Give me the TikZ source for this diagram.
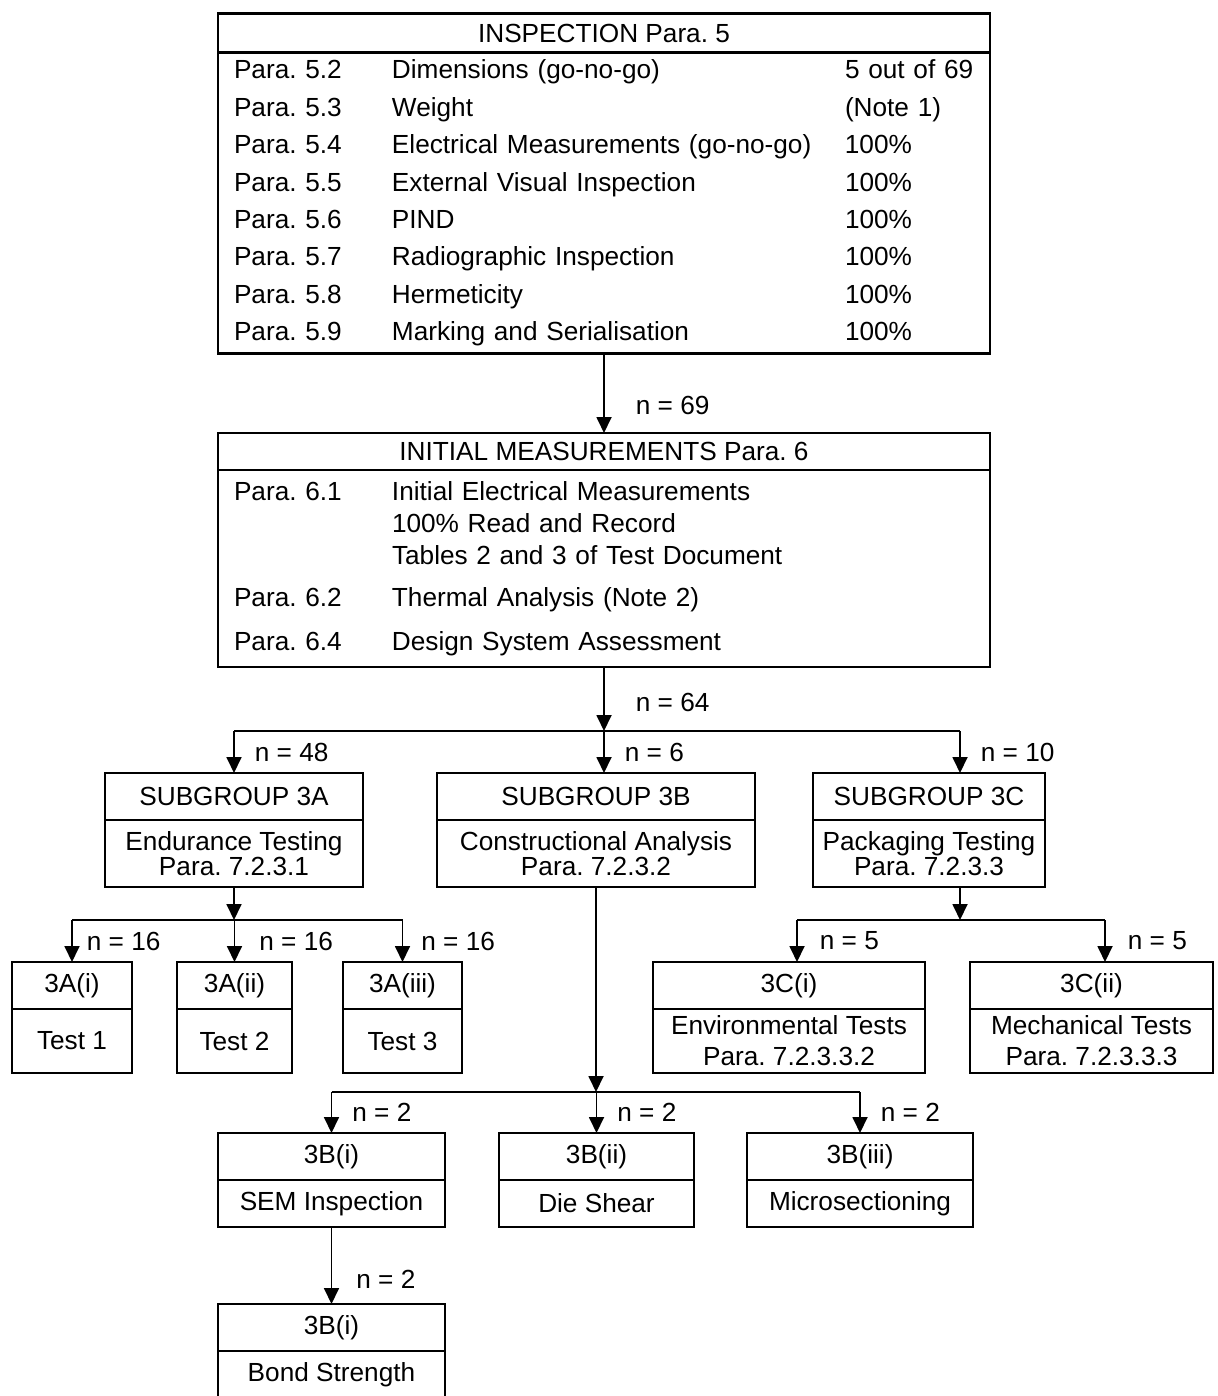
\documentclass[tikz,border=0pt]{standalone}
\usepackage{fontspec}
\setmainfont{Liberation Sans}
\usetikzlibrary{positioning,arrows.meta}
\frenchspacing

\newcommand{\pcol}[1]{\makebox[79pt][l]{#1}}
\newcommand{\dcol}[1]{\makebox[226.5pt][l]{#1}}
\newcommand{\qcol}[1]{\makebox[0pt][l]{#1}}

\begin{document}
\begin{tikzpicture}[x=0.5pt,y=-0.5pt,
    font=\fontsize{13.1}{15}\selectfont,
    box/.style={draw,line width=1.2pt,outer sep=0pt,inner sep=0pt,align=center},
    hdr/.style={box,minimum height=23.5pt},
    bdy/.style={box,below=0pt of #1},
    flow/.style={line width=0.9pt,-{Triangle[width=7.5pt,length=8pt]}},
    tie/.style={line width=0.9pt},
    lbl/.style={right,inner sep=0pt,xshift=#1},
    lbl/.default=10pt]
  \useasboundingbox (0,0) rectangle (1218,1396);

  % inspection
  \node[hdr,minimum width=386pt,minimum height=19.5pt] (insp) at (604,33) {INSPECTION Para. 5};
  \node[bdy=insp,minimum width=386pt,minimum height=150.5pt,inner xsep=8pt,text width=370pt,
        align=left,font=\fontsize{13.1}{18.7}\selectfont] (insp-b) {%
    \pcol{Para. 5.2}\dcol{Dimensions (go-no-go)}\qcol{5 out of 69}\\
    \pcol{Para. 5.3}\dcol{Weight}\qcol{(Note 1)}\\
    \pcol{Para. 5.4}\dcol{Electrical Measurements (go-no-go)}\qcol{100\%}\\
    \pcol{Para. 5.5}\dcol{External Visual Inspection}\qcol{100\%}\\
    \pcol{Para. 5.6}\dcol{PIND}\qcol{100\%}\\
    \pcol{Para. 5.7}\dcol{Radiographic Inspection}\qcol{100\%}\\
    \pcol{Para. 5.8}\dcol{Hermeticity}\qcol{100\%}\\
    \pcol{Para. 5.9}\dcol{Marking and Serialisation}\qcol{100\%}};

  % initial measurements
  \node[hdr,minimum width=386pt,minimum height=18.5pt] (init) at (604,451.5) {INITIAL MEASUREMENTS Para. 6};
  \node[bdy=init,minimum width=386pt,minimum height=98.5pt,inner xsep=8pt,text width=370pt,
        align=left,font=\fontsize{13.1}{16}\selectfont] (init-b) {%
    \pcol{Para. 6.1}Initial Electrical Measurements\\
    \pcol{}100\% Read and Record\\
    \pcol{}Tables 2 and 3 of Test Document\\[5pt]
    \pcol{Para. 6.2}Thermal Analysis (Note 2)\\[6pt]
    \pcol{Para. 6.4}Design System Assessment};

  % subgroups
  \node[hdr,minimum width=129pt] (sub3a) at (234,796.5) {SUBGROUP 3A};
  \node[bdy=sub3a,minimum width=129pt,minimum height=33.5pt,font=\fontsize{13.1}{12.5}\selectfont] (sub3a-b) {Endurance Testing\\Para. 7.2.3.1};
  \node[hdr,minimum width=159pt] (sub3b) at (596,796.5) {SUBGROUP 3B};
  \node[bdy=sub3b,minimum width=159pt,minimum height=33.5pt,font=\fontsize{13.1}{12.5}\selectfont] (sub3b-b) {Constructional Analysis\\Para. 7.2.3.2};
  \node[hdr,minimum width=116pt] (sub3c) at (929,796.5) {SUBGROUP 3C};
  \node[bdy=sub3c,minimum width=116pt,minimum height=33.5pt,font=\fontsize{13.1}{12.5}\selectfont] (sub3c-b) {Packaging Testing\\Para. 7.2.3.3};

  % tests of 3A
  \node[hdr,minimum width=60pt] (t3a1) at (72,985.5) {3A(i)};
  \node[bdy=t3a1,minimum width=60pt,minimum height=32pt] (t3a1-b) {Test 1};
  \node[hdr,minimum width=57.5pt] (t3a2) at (234.5,985.5) {3A(ii)};
  \node[bdy=t3a2,minimum width=57.5pt,minimum height=32pt] (t3a2-b) {Test 2};
  \node[hdr,minimum width=59.5pt] (t3a3) at (402.5,985.5) {3A(iii)};
  \node[bdy=t3a3,minimum width=59.5pt,minimum height=32pt] (t3a3-b) {Test 3};

  % tests of 3C
  \node[hdr,minimum width=136pt] (t3c1) at (789,985.5) {3C(i)};
  \node[bdy=t3c1,minimum width=136pt,minimum height=32pt,font=\fontsize{13.1}{15.5}\selectfont] (t3c1-b) {Environmental Tests\\Para. 7.2.3.3.2};
  \node[hdr,minimum width=121.5pt] (t3c2) at (1091.5,985.5) {3C(ii)};
  \node[bdy=t3c2,minimum width=121.5pt,minimum height=32pt,font=\fontsize{13.1}{15.5}\selectfont] (t3c2-b) {Mechanical Tests\\Para. 7.2.3.3.3};

  % tests of 3B
  \node[hdr,minimum width=113.5pt] (t3b1) at (331.5,1156.5) {3B(i)};
  \node[bdy=t3b1,minimum width=113.5pt,minimum height=23.5pt] (t3b1-b) {SEM Inspection};
  \node[hdr,minimum width=97.5pt] (t3b2) at (596.5,1156.5) {3B(ii)};
  \node[bdy=t3b2,minimum width=97.5pt,minimum height=23.5pt] (t3b2-b) {Die Shear};
  \node[hdr,minimum width=113pt] (t3b3) at (860,1156.5) {3B(iii)};
  \node[bdy=t3b3,minimum width=113pt,minimum height=23.5pt] (t3b3-b) {Microsectioning};
  \node[hdr,minimum width=113.5pt] (t3b4) at (331.5,1327.5) {3B(i)};
  \node[bdy=t3b4,minimum width=113.5pt,minimum height=23.5pt] (t3b4-b) {Bond Strength};

  % branch points
  \coordinate (fork1) at (604,731);
  \coordinate (in3c) at (960,731);
  \coordinate (fork3a) at (234,920);
  \coordinate (fork3c) at (960,920);
  \coordinate (in3c1) at (797,920);
  \coordinate (in3c2) at (1105,920);
  \coordinate (fork3b) at (596,1092);

  % connectors
  \draw[flow] (insp-b.south) -- (init.north) node[lbl=15.5pt,pos=0.65] {n = 69};
  \draw[flow] (init-b.south) -- (fork1) node[lbl=15.5pt,pos=0.55] {n = 64};
  \draw[tie] (fork1 -| sub3a.north) -- (in3c);
  \draw[flow] (fork1 -| sub3a.north) -- (sub3a.north) node[lbl,midway] {n = 48};
  \draw[flow] (fork1) -- (fork1 |- sub3b.north) node[lbl,midway] {n = 6};
  \draw[flow] (in3c) -- (in3c |- sub3c.north) node[lbl,midway] {n = 10};

  \draw[flow] (sub3a-b.south) -- (fork3a);
  \draw[tie] (fork3a -| t3a1.north) -- (fork3a -| t3a3.north);
  \draw[flow] (fork3a -| t3a1.north) -- (t3a1.north) node[lbl=7pt,midway] {n = 16};
  \draw[flow] (fork3a -| t3a2.north) -- (t3a2.north) node[lbl=12pt,midway] {n = 16};
  \draw[flow] (fork3a -| t3a3.north) -- (t3a3.north) node[lbl=9pt,midway] {n = 16};

  \draw[flow] (in3c |- sub3c-b.south) -- (fork3c);
  \draw[tie] (in3c1) -- (in3c2);
  \draw[flow] (in3c1) -- (in3c1 |- t3c1.north) node[lbl=11pt,midway] {n = 5};
  \draw[flow] (in3c2) -- (in3c2 |- t3c2.north) node[lbl=11pt,midway] {n = 5};

  \draw[flow] (sub3b-b.south) -- (fork3b);
  \draw[tie] (fork3b -| t3b1.north) -- (fork3b -| t3b3.north);
  \draw[flow] (fork3b -| t3b1.north) -- (t3b1.north) node[lbl,midway] {n = 2};
  \draw[flow] (fork3b -| t3b2.north) -- (t3b2.north) node[lbl,midway] {n = 2};
  \draw[flow] (fork3b -| t3b3.north) -- (t3b3.north) node[lbl,midway] {n = 2};
  \draw[flow] (t3b1-b.south) -- (t3b4.north) node[lbl=12pt,pos=0.68] {n = 2};
\end{tikzpicture}
\end{document}
